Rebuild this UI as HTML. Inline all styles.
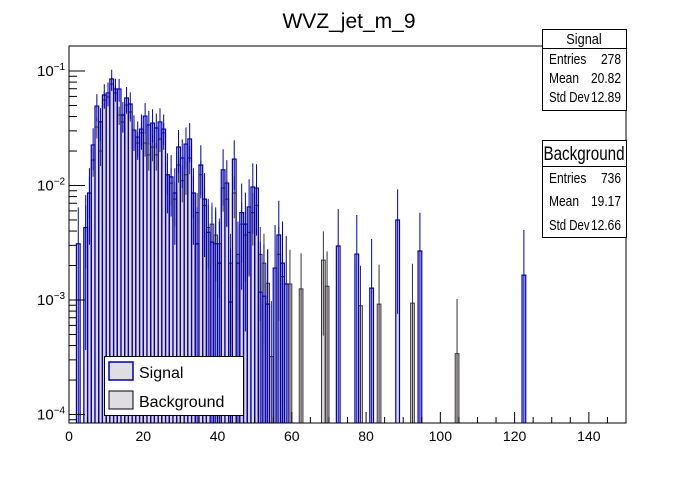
<!DOCTYPE html>
<html><head><meta charset="utf-8"><style>
body{margin:0;background:#fff;}
svg text{font-family:"Liberation Sans",sans-serif;}
</style></head><body>
<svg id="c" width="696" height="472" xmlns="http://www.w3.org/2000/svg">
<rect width="696" height="472" fill="#fff"/>
<text x="349" y="28" font-size="21" text-anchor="middle">WVZ_jet_m_9</text>
<g id="marks"></g>
<rect x="69" y="46" width="557" height="377" fill="none" stroke="#000" stroke-width="1"/>
<g id="axes"></g>
<g>
<line x1="626" y1="110" x2="626" y2="140" stroke="#000"/>
<rect x="542.5" y="29.5" width="84" height="81" fill="#fff" stroke="#000"/>
<line x1="542" y1="48.5" x2="626" y2="48.5" stroke="#000"/>
<g transform="translate(584,44) scale(0.85,1)"><text x="0" y="0" font-size="15" text-anchor="middle">Signal</text></g>
<g transform="translate(549,64) scale(0.8,1)"><text font-size="15">Entries</text></g><g transform="translate(621,64) scale(0.8,1)"><text font-size="15" text-anchor="end">278</text></g>
<g transform="translate(549,83) scale(0.8,1)"><text font-size="15">Mean</text></g><g transform="translate(621,83) scale(0.8,1)"><text font-size="15" text-anchor="end">20.82</text></g>
<g transform="translate(549,102) scale(0.76,1)"><text font-size="15">Std Dev</text></g><g transform="translate(621,102) scale(0.8,1)"><text font-size="15" text-anchor="end">12.89</text></g>
</g>
<g>
<rect x="542.5" y="140.5" width="84" height="97" fill="#fff" stroke="#000"/>
<line x1="542" y1="166.5" x2="626" y2="166.5" stroke="#000"/>
<g transform="translate(584,160) scale(0.8,1)"><text font-size="19" text-anchor="middle">Background</text></g>
<g transform="translate(549,183) scale(0.8,1)"><text font-size="15">Entries</text></g><g transform="translate(621,183) scale(0.8,1)"><text font-size="15" text-anchor="end">736</text></g>
<g transform="translate(549,206) scale(0.8,1)"><text font-size="15">Mean</text></g><g transform="translate(621,206) scale(0.8,1)"><text font-size="15" text-anchor="end">19.17</text></g>
<g transform="translate(549,230) scale(0.76,1)"><text font-size="15">Std Dev</text></g><g transform="translate(621,230) scale(0.8,1)"><text font-size="15" text-anchor="end">12.66</text></g>
</g>
<g>
<rect x="104.5" y="356.5" width="139" height="59" fill="#fff" stroke="#000"/>
<rect x="109" y="362" width="24" height="18" fill="#e0dce4" stroke="#0000aa" stroke-width="1.5"/>
<text x="139" y="378" font-size="16">Signal</text>
<rect x="109" y="391" width="24" height="18" fill="#e0dce4" stroke="#000" stroke-width="1"/>
<text x="139" y="407" font-size="16">Background</text>
</g>
</svg>
<script>
const nBins = 150;
const sigBins = [2,4,5,6,7,8,9,10,11,12,13,14,15,16,17,18,19,20,21,22,23,24,25,26,27,28,29,30,31,32,33,34,35,36,37,38,39,40,41,42,43,44,45,46,47,48,49,50,51,52,53,55,56,57,58,72,77,81,88,94,122];
const sigVals = [0.0031,0.0043,0.0086,0.0226,0.0494,0.036,0.0617,0.0643,0.0851,0.0697,0.0697,0.0413,0.0581,0.0515,0.0305,0.0265,0.0311,0.0404,0.0338,0.0351,0.0318,0.0359,0.0311,0.0124,0.0119,0.0086,0.0217,0.0174,0.023,0.0255,0.0086,0.0031,0.0151,0.0076,0.0039,0.0032,0.0031,0.0021,0.0137,0.0105,0.00096,0.017,0.0021,0.0058,0.0046,0.0065,0.0097,0.0095,0.00117,0.00108,0.00092,0.0019,0.0037,0.0021,0.00138,0.00296,0.00252,0.00127,0.005,0.00268,0.00165];
const bkgBins = [4,5,6,7,8,9,10,11,12,13,14,15,16,17,18,19,20,21,22,23,24,25,26,27,28,29,30,31,32,33,34,35,36,37,38,39,40,41,42,43,44,45,46,47,48,49,50,51,52,53,54,56,57,59,62,68,69,78,83,92,104];
const bkgVals = [0.0043,0.0086,0.0167,0.0324,0.02,0.0558,0.0593,0.077,0.0643,0.0413,0.0359,0.0505,0.0438,0.0305,0.0235,0.0288,0.0235,0.0185,0.0217,0.0185,0.0255,0.0288,0.0124,0.0105,0.0076,0.0151,0.011,0.0124,0.0174,0.0086,0.0058,0.0124,0.0067,0.0043,0.0046,0.0037,0.0031,0.0095,0.0076,0.0021,0.0086,0.0025,0.0046,0.0037,0.0039,0.0058,0.0067,0.0025,0.0021,0.0014,0.00032,0.0025,0.0016,0.00138,0.00125,0.00223,0.00132,0.00089,0.00092,0.00094,0.00034];
const xTicks = [0,20,40,60,80,100,120,140];
const yTicks = [-4,-3,-2,-1];
const sigW = 0.0036, bkgW = 0.00136;

const X0=69,X1=626,Y0=423,Y1=46;
const xs = u => X0 + (u/150)*(X1-X0);
const ys = v => { const y = 71 + (-1 - Math.log10(v))*114.5; return Math.min(Y0, Math.max(Y1, y)); };
const NS="http://www.w3.org/2000/svg";
const marks=document.getElementById('marks'), axes=document.getElementById('axes');
function mk(tag,attrs,parent){const e=document.createElementNS(NS,tag);for(const k in attrs)e.setAttribute(k,attrs[k]);parent.appendChild(e);return e;}

function drawFills(bins,vals,fill,name){
  bins.forEach((b,i)=>{
    const r=mk('rect',{x:xs(b),y:ys(vals[i]),width:xs(b+1)-xs(b),height:Y0-ys(vals[i]),fill:fill},marks);
    
    
  });
}
function drawOutline(bins,vals,stroke,sw,w,name){
  bins.forEach((b,i)=>{
    const x0=xs(b),x1=xs(b+1),y=ys(vals[i]);
    const p=mk('path',{d:`M${x0},${Y0}V${y}H${x1}V${Y0}`,fill:'none',stroke:stroke,'stroke-width':sw},marks);
    
    
    const e=Math.sqrt(vals[i]*w), xc=(x0+x1)/2;
    const lo=vals[i]-e>0?ys(vals[i]-e):Y0;
    const l=mk('line',{x1:xc,x2:xc,y1:ys(vals[i]+e),y2:lo,stroke:stroke,'stroke-width':1},marks);
    
    
  });
}
drawFills(sigBins,sigVals,'#dcdaf0','signal');
drawFills(bkgBins,bkgVals,'#e0d6de','background');
drawOutline(bkgBins,bkgVals,'#333','1',bkgW,'background');
drawOutline(sigBins,sigVals,'#0000b0','1.2',sigW,'signal');

for(let u=0;u<=150;u+=5){
  const major = u%20===0;
  mk('line',{x1:xs(u),x2:xs(u),y1:Y0,y2:Y0-(major?11:6),stroke:'#000'},axes);
}
xTicks.forEach(t=>{
  const tx=mk('text',{x:xs(t),y:441,'font-size':14,'text-anchor':'middle'},axes);
  tx.textContent=t;
  
  
});
for(let d=-5;d<=-1;d++){
  for(let m=1;m<=9;m++){
    const v=m*Math.pow(10,d), y=71+(-1-Math.log10(v))*114.5;
    if(y<Y1||y>Y0) continue;
    mk('line',{x1:X0,x2:X0+(m===1?16:8),y1:y,y2:y,stroke:'#000'},axes);
  }
}
yTicks.forEach(d=>{
  const y=71+(-1-d)*114.5;
  const tx=mk('text',{x:37,y:y+5,'font-size':15},axes);
  
  
  tx.textContent='10';
  const s=mk('tspan',{dy:-6,'font-size':10},tx); s.textContent='\u2212'+(-d);
});
</script>
</body></html>
